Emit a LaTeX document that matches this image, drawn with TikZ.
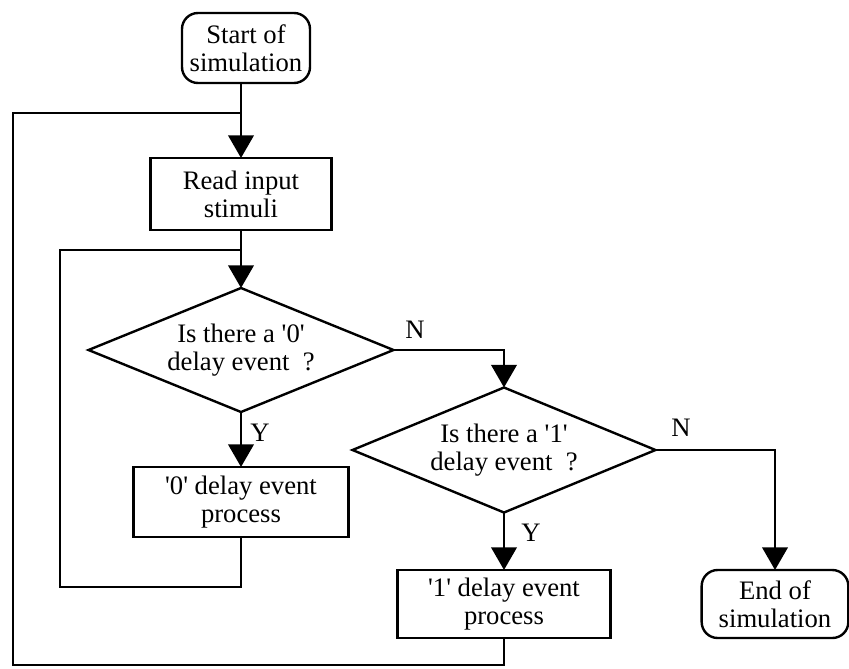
\documentclass[tikz,border=0pt]{standalone}
\usepackage{fontspec}
\setmainfont{Liberation Serif}[Ligatures=TeXOff]
\usetikzlibrary{arrows.meta,shapes.geometric}
\begin{document}
\begin{tikzpicture}[x=0.75pt,y=-0.75pt,
  every node/.style={font=\fontsize{20}{21}\selectfont, inner sep=0pt, outer sep=0pt},
  procbox/.style={draw, line width=1.8pt, rectangle, align=center},
  termbox/.style={procbox, rounded corners=12pt},
  decision/.style={draw, line width=1.8pt, diamond, aspect=2.45, align=center},
  flow/.style={line width=2.2pt},
  arrowflow/.style={flow, -{Triangle[width=19pt,length=17pt]}},
  lbl/.style={}
]
\useasboundingbox (0,0) rectangle (849,668);

% blocks
\node[termbox, minimum width=96pt, minimum height=52.5pt] (start) at (246,48) {Start of\\simulation};
\node[procbox, minimum width=135.75pt, minimum height=54pt] (rd) at (241,194) {Read input\\stimuli};
\node[decision, minimum width=228.75pt, minimum height=93pt] (d0) at (241,350) {Is there a '0'\\delay event\ \ ?};
\node[procbox, minimum width=161.25pt, minimum height=52.5pt] (p0) at (241,502) {'0' delay event\\process};
\node[decision, minimum width=227.25pt, minimum height=93.75pt] (d1) at (504,450) {Is there a '1'\\delay event\ \ ?};
\node[procbox, minimum width=159.75pt, minimum height=51pt] (p1) at (504,604) {'1' delay event\\process};
\node[termbox, minimum width=110pt, minimum height=51pt] (stop) at (775,604) {End of\\simulation};

% junction points of the two loops
\coordinate (jtop) at (241,113);
\coordinate (jmid) at (241,250);
\coordinate (outerB) at (13,665);
\coordinate (innerB) at (60,587);

% main flow
\draw[arrowflow] (start.south -| rd.north) -- (rd.north);
\draw[arrowflow] (rd.south) -- (d0.north);
\draw[arrowflow] (d0.south) -- (p0.north);
\draw[arrowflow] (d0.east) -| (d1.north);
\draw[arrowflow] (d1.south) -- (p1.north);
\draw[arrowflow] (d1.east) -| (stop.north);

% loops back
\draw[flow] (p0.south) |- (innerB) |- (jmid);
\draw[flow] (p1.south) |- (outerB) |- (jtop);

% branch labels
\node[lbl] (y0) at (260,433) {Y};
\node[lbl] (n0) at (415,330) {N};
\node[lbl] (y1) at (531,533) {Y};
\node[lbl] (n1) at (681,428) {N};
\end{tikzpicture}
\end{document}
